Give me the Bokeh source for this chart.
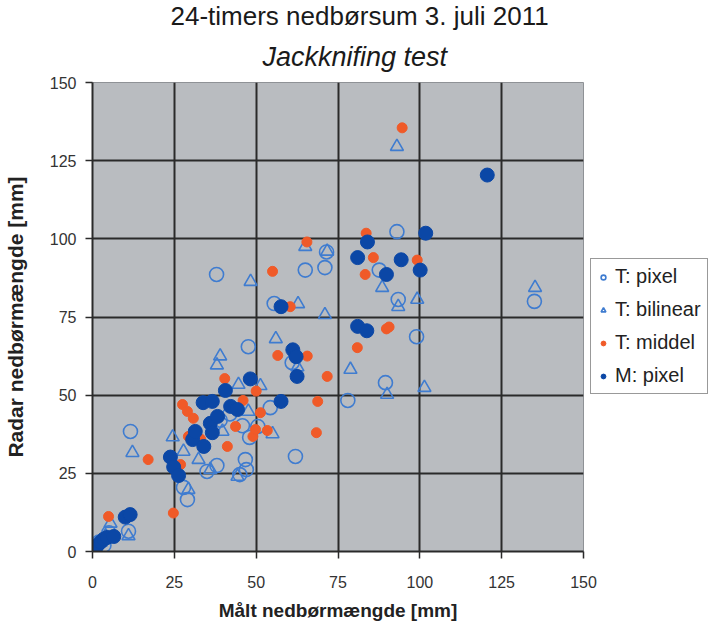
from bokeh.plotting import figure
from bokeh.models import Legend, LegendItem, Title, FixedTicker, Range1d
from bokeh.embed import file_html
from bokeh.resources import INLINE

# ---- data ----
t_pixel_x = [1, 2, 3.5, 5, 11, 11.6, 27.8, 29, 35, 38, 45, 46.7, 47, 48, 45.8, 50.5, 42, 39,
             54.3, 47.6, 62, 61, 55.5, 37.9, 65, 71, 71.5, 78, 89.5, 99, 87.6, 93.4, 93, 135]
t_pixel_y = [1.5, 3, 2, 6, 6.5, 38.4, 20.5, 16.6, 25.6, 27.5, 24.6, 29.4, 26.2, 36.5, 40.2, 40, 44, 42,
             46, 65.5, 30.4, 60.4, 79.3, 88.6, 90, 90.8, 95.8, 48.3, 54, 68.7, 90, 80.6, 102.3, 80]

t_bilin_x = [1, 2.5, 4, 5.5, 11, 12.2, 24.5, 27.8, 29.3, 32.4, 36, 39.7, 44.3, 44.6, 47.6, 38, 39,
             51.3, 55, 56, 62.6, 48.3, 65, 71.7, 62.8, 71, 78.8, 90, 101.4, 88.5, 93.4, 99.2, 93, 135.2]
t_bilin_y = [1.5, 3, 5, 9, 5, 31.6, 36.6, 32, 19.8, 29.4, 26.2, 38.4, 24, 53.4, 44.8, 59.6, 62.5,
             53, 37.6, 68, 59, 86.3, 97.5, 96, 79.2, 75.7, 58.2, 50.2, 52.4, 84.4, 78.3, 80.6, 129.5, 84.4]

t_middel_x = [2, 4.9, 17, 24.7, 26.9, 27.5, 29, 30.8, 29.3, 33, 40.4, 41.2, 43.7, 46, 49, 49.8, 50,
              51.3, 53.4, 56.6, 65.6, 68.4, 68.8, 71.7, 55, 60.4, 65.5, 80.9, 83.6, 85.8, 83.3, 89.8,
              90.6, 99.2, 94.6]
t_middel_y = [3, 11.2, 29.4, 12.3, 27.8, 47, 44.8, 42.6, 36.8, 36, 55.3, 33.6, 40, 48.3, 36.8, 39, 51.3,
              44.4, 38.7, 62.7, 62.5, 38, 48, 56, 89.6, 78.3, 99, 65.2, 101.8, 94, 88.6, 71.2,
              71.8, 93.2, 135.5]

m_pixel_x = [0.5, 1.5, 2.5, 3.5, 4.5, 6.5, 10, 11.5, 23.8, 24.8, 26.3, 30.6, 31.4, 34, 33.8, 36.6, 36,
             36.6, 38.2, 40.6, 42.2, 44.3, 48.2, 57.6, 61.2, 62.2, 62.5, 57.6, 81, 83.8, 84, 81,
             89.8, 94.3, 100.1, 101.8, 120.6]
m_pixel_y = [1, 2, 3, 4, 4.5, 4.8, 11, 11.8, 30.2, 27, 24.3, 35.8, 38.4, 33.6, 47.6, 48, 41,
             38, 43.2, 51.5, 46.4, 45.4, 55.2, 48, 64.5, 62.3, 56, 78.3, 72, 70.6, 99, 94,
             88.6, 93.3, 90, 101.8, 120.4]

axis_ticks = [0, 25, 50, 75, 100, 125, 150]
grid_ticks = [25, 50, 75, 100, 125]

series_labels = ["T: pixel", "T: bilinear", "T: middel", "M: pixel"]

FONT = "Liberation Sans"
LIGHT_BLUE = "#3f7cd0"
DARK_BLUE = "#0b47a6"
RED = "#f05a28"

p = figure(frame_width=491, frame_height=469, output_backend="svg", toolbar_location=None,
           x_range=Range1d(0, 150), y_range=Range1d(0, 150),
           min_border_left=84, min_border_right=110, min_border_top=75, min_border_bottom=60,
           title="24-timers nedbørsum 3. juli 2011")

p.background_fill_color = "#b9bcc0"
p.border_fill_color = "white"
p.outline_line_color = "#8f9296"
p.outline_line_width = 1

# titles (p.title is the outer one, the added one sits next to the frame)
p.title.text_font = FONT
p.title.text_font_size = "26px"
p.title.text_font_style = "normal"
p.title.text_color = "#1a1a1a"
p.title.align = "left"
p.title.offset = 78
p.title.standoff = -4
sub_title = Title(text="Jackknifing test", align="left", offset=170,
                  text_font=FONT, text_font_size="27px", text_font_style="italic",
                  text_color="#1a1a1a", standoff=22)
p.add_layout(sub_title, "above")

# axes
for ax in (p.xaxis, p.yaxis):
    ax.ticker = FixedTicker(ticks=axis_ticks)
    ax.axis_line_color = "#2a2a2a"
    ax.axis_line_width = 2
    ax.major_tick_line_color = "#2a2a2a"
    ax.major_tick_line_width = 1.5
    ax.major_tick_in = 0
    ax.major_tick_out = 7
    ax.minor_tick_line_color = None
    ax.major_label_text_font = FONT
    ax.major_label_text_font_size = "16px"
    ax.major_label_text_color = "#333333"
    ax.axis_label_text_font = FONT
    ax.axis_label_text_font_style = "bold"
    ax.axis_label_text_color = "#222222"

p.xaxis.axis_label = "Målt nedbørmængde [mm]"
p.yaxis.axis_label = "Radar nedbørmængde [mm]"
p.xaxis.axis_label_text_font_size = "19px"
p.yaxis.axis_label_text_font_size = "21px"
p.xaxis.major_label_standoff = 17
p.xaxis.axis_label_standoff = 9
p.yaxis.major_label_standoff = 9
p.yaxis.axis_label_standoff = 20

for g in (p.xgrid, p.ygrid):
    g.ticker = FixedTicker(ticks=grid_ticks)
    g.grid_line_color = "#2a2a2a"
    g.grid_line_width = 2

r1 = p.scatter(t_pixel_x, t_pixel_y, marker="circle", size=14, fill_color=None,
               line_color=LIGHT_BLUE, line_width=1.6)
r2 = p.scatter(t_bilin_x, t_bilin_y, marker="triangle", size=13, fill_color=None,
               line_color=LIGHT_BLUE, line_width=1.6)
r3 = p.scatter(t_middel_x, t_middel_y, marker="circle", size=10, fill_color=RED,
               line_color=RED, line_width=1)
r4 = p.scatter(m_pixel_x, m_pixel_y, marker="circle", size=14, fill_color=DARK_BLUE,
               line_color=DARK_BLUE, line_width=1)

legend = Legend(items=[LegendItem(label=series_labels[0], renderers=[r1]),
                       LegendItem(label=series_labels[1], renderers=[r2]),
                       LegendItem(label=series_labels[2], renderers=[r3]),
                       LegendItem(label=series_labels[3], renderers=[r4])],
                location=(7, 157))
legend.label_text_font = FONT
legend.label_text_font_size = "20px"
legend.label_text_color = "#222222"
legend.border_line_color = "#333333"
legend.border_line_width = 1.5
legend.background_fill_color = "white"
legend.background_fill_alpha = 1
legend.glyph_width = 12
legend.glyph_height = 20
legend.label_height = 20
legend.spacing = 10
legend.padding = 6
legend.margin = 0
legend.label_standoff = 6
p.add_layout(legend, "right")

open("out.html", "w").write(file_html(p, INLINE))
